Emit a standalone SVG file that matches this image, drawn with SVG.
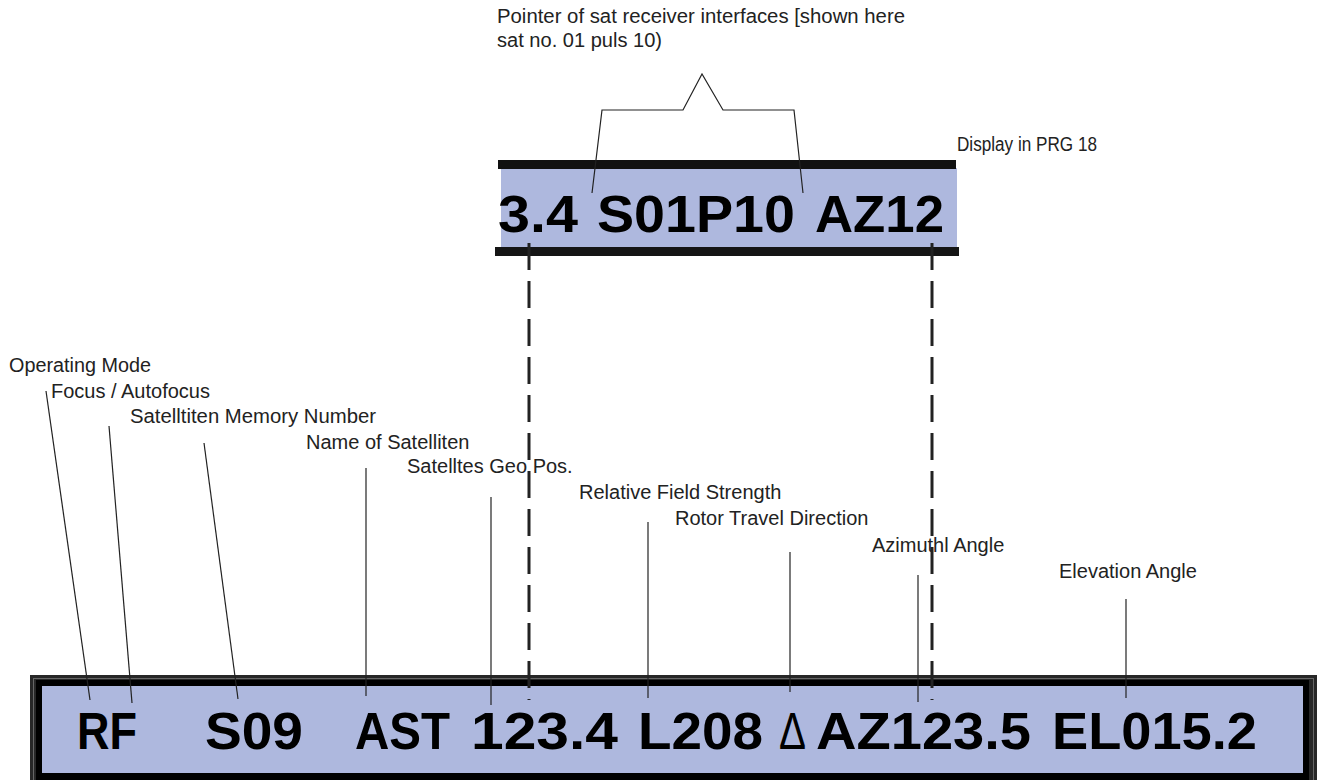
<svg xmlns="http://www.w3.org/2000/svg" width="1317" height="780" viewBox="0 0 1317 780">
<style>
.lbl{font-family:"Liberation Sans",Arial,sans-serif;font-size:20px;fill:#222}
.big{font-family:"Liberation Sans",Arial,sans-serif;font-weight:bold;font-size:51px;fill:#000}
.lead{stroke:#222;stroke-width:1.2;fill:none}
.dash{stroke:#222;stroke-width:3;stroke-dasharray:27 11;fill:none}
.lcd{fill:#aeb8de}
</style>
<rect width="1317" height="780" fill="#fff"/>
<g id="top-display">
<rect class="lcd" x="501" y="168" width="456" height="80"/>
<rect x="498" y="160" width="458" height="9" fill="#111"/>
<rect x="495" y="247" width="464" height="9" fill="#151515"/>
<text class="big" x="498" y="232" textLength="80" lengthAdjust="spacingAndGlyphs">3.4</text>
<text class="big" x="597" y="232" textLength="198" lengthAdjust="spacingAndGlyphs">S01P10</text>
<text class="big" x="815" y="232" textLength="129" lengthAdjust="spacingAndGlyphs">AZ12</text>
</g>
<g id="bottom-display">
<rect x="30" y="675" width="1287" height="110" fill="#272727"/>
<rect x="33.5" y="678.5" width="1280" height="110" fill="none" stroke="#666" stroke-width="1"/>
<rect x="36" y="680" width="1273" height="100" fill="#000"/>
<rect class="lcd" x="42" y="686" width="1261" height="87"/>
<text class="big" x="77" y="749" textLength="60" lengthAdjust="spacingAndGlyphs">RF</text>
<text class="big" x="205" y="749" textLength="98" lengthAdjust="spacingAndGlyphs">S09</text>
<text class="big" x="355" y="749" textLength="95" lengthAdjust="spacingAndGlyphs">AST</text>
<text class="big" x="471" y="749" textLength="147" lengthAdjust="spacingAndGlyphs">123.4</text>
<text class="big" x="638" y="749" textLength="125" lengthAdjust="spacingAndGlyphs">L208</text>
<text class="big" x="779" y="749" textLength="27" lengthAdjust="spacingAndGlyphs" style="font-weight:normal">Δ</text>
<text class="big" x="816" y="749" textLength="215" lengthAdjust="spacingAndGlyphs">AZ123.5</text>
<text class="big" x="1052" y="749" textLength="205" lengthAdjust="spacingAndGlyphs">EL015.2</text>
</g>
<g id="label-pointer">
<text class="lbl" x="497" y="23" textLength="408" lengthAdjust="spacingAndGlyphs">Pointer of sat receiver interfaces [shown here</text>
<text class="lbl" x="497" y="47" textLength="165" lengthAdjust="spacingAndGlyphs">sat no. 01 puls 10)</text>
</g>
<g id="label-display"><text class="lbl" x="957" y="151" textLength="140" lengthAdjust="spacingAndGlyphs">Display in PRG 18</text></g>
<g id="label-operating"><text class="lbl" x="9" y="372" textLength="142" lengthAdjust="spacingAndGlyphs">Operating Mode</text></g>
<g id="label-focus"><text class="lbl" x="51" y="398">Focus / Autofocus</text></g>
<g id="label-memory"><text class="lbl" x="130" y="423" textLength="246" lengthAdjust="spacingAndGlyphs">Satelltiten Memory Number</text></g>
<g id="label-name"><text class="lbl" x="306" y="449">Name of Satelliten</text></g>
<g id="label-geo"><text class="lbl" x="407" y="473">Satelltes Geo Pos.</text></g>
<g id="label-field"><text class="lbl" x="579" y="499">Relative Field Strength</text></g>
<g id="label-rotor"><text class="lbl" x="675" y="525">Rotor Travel Direction</text></g>
<g id="label-azimuth"><text class="lbl" x="872" y="552">Azimuthl Angle</text></g>
<g id="label-elevation"><text class="lbl" x="1059" y="578">Elevation Angle</text></g>
<g id="connectors">
<path class="lead" d="M592,193 L602,110 L683,110 L702,74 L723,110 L794,110 L803,193"/>
<line class="lead" x1="46" y1="391" x2="90" y2="700"/>
<line class="lead" x1="109" y1="426" x2="132" y2="703"/>
<line class="lead" x1="204" y1="443" x2="238" y2="699"/>
<line class="lead" x1="366" y1="468" x2="366" y2="696"/>
<line class="lead" x1="491" y1="497" x2="491" y2="705"/>
<line class="lead" x1="648" y1="522" x2="648" y2="698"/>
<line class="lead" x1="790" y1="552" x2="790" y2="692"/>
<line class="lead" x1="918" y1="575" x2="918" y2="702"/>
<line class="lead" x1="1126" y1="599" x2="1126" y2="698"/>
<line class="dash" x1="529" y1="243" x2="529" y2="700"/>
<line class="dash" x1="932" y1="243" x2="932" y2="700"/>
</g>
</svg>
